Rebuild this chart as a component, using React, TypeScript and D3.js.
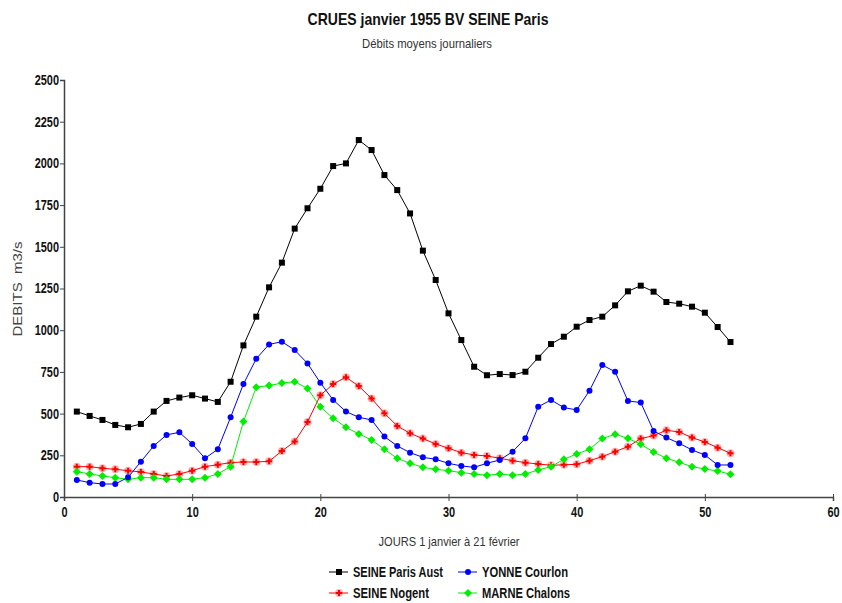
import React, { useEffect, useRef } from 'react';
import * as d3 from 'd3';

// débits moyens journaliers, jours 1 à 52
const days = d3.range(1, 53);

const seineParis = [512, 486, 462, 432, 418, 438, 512, 576, 596, 610, 590, 570, 691, 909, 1081, 1257, 1405, 1609, 1731, 1848,
  1984, 2000, 2140, 2080, 1930, 1840, 1700, 1477, 1301, 1101, 941, 781, 730, 737, 731, 751, 835, 917, 961, 1021,
  1061, 1081, 1149, 1233, 1267, 1231, 1169, 1159, 1141, 1105, 1019, 929];

const yonne = [102, 86, 78, 78, 118, 212, 306, 372, 388, 318, 232, 286, 478, 677, 829, 915, 931, 881, 801, 685,
  582, 512, 478, 462, 362, 306, 266, 238, 226, 202, 186, 178, 202, 222, 272, 352, 541, 582, 536, 522,
  637, 791, 751, 576, 566, 396, 356, 322, 282, 252, 192, 192];

const seineNogent = [182, 182, 172, 166, 158, 150, 138, 126, 138, 158, 182, 194, 206, 210, 210, 214, 276, 332, 450, 610,
  677, 718, 665, 590, 502, 426, 382, 350, 318, 292, 266, 252, 246, 232, 218, 206, 198, 190, 193, 196,
  218, 242, 272, 302, 350, 368, 400, 390, 356, 330, 296, 262];

const marne = [152, 138, 126, 116, 106, 116, 116, 106, 106, 106, 116, 138, 182, 452, 658, 668, 683, 691, 651, 541,
  472, 418, 378, 342, 286, 232, 202, 178, 166, 158, 146, 138, 130, 138, 130, 138, 162, 182, 226, 258,
  286, 350, 376, 352, 316, 270, 232, 208, 182, 168, 156, 136];

const seriesNames = ['SEINE Paris Aust', 'YONNE Courlon', 'SEINE Nogent', 'MARNE Chalons'];
const seriesValues = [seineParis, yonne, seineNogent, marne];
const seriesColors = ['#000000', '#0000ff', '#ff0000', '#00ee00'];
const seriesMarkers = ['square', 'circle', 'star', 'diamond'];

const xTicks = [0, 10, 20, 30, 40, 50, 60];
const yTicks = [0, 250, 500, 750, 1000, 1250, 1500, 1750, 2000, 2250, 2500];

const FONT = "'Liberation Sans', Arial, sans-serif";

// la police d'origine est étroite : on resserre le texte
function condense(sel: any, k: number) {
  sel.each(function (this: SVGTextElement) {
    const w = this.getComputedTextLength();
    d3.select(this).attr('textLength', w * k).attr('lengthAdjust', 'spacingAndGlyphs');
  });
}

function drawMarker(g: any, kind: string, x: number, y: number, color: string) {
  if (kind === 'square') {
    g.append('rect').attr('x', x - 3).attr('y', y - 3).attr('width', 6).attr('height', 6).attr('fill', color);
  } else if (kind === 'circle') {
    g.append('circle').attr('cx', x).attr('cy', y).attr('r', 3).attr('fill', color);
  } else if (kind === 'diamond') {
    g.append('path').attr('d', `M${x},${y - 4}L${x + 4},${y}L${x},${y + 4}L${x - 4},${y}Z`).attr('fill', color);
  } else {
    g.append('circle').attr('cx', x).attr('cy', y).attr('r', 4).attr('fill', color).attr('opacity', 0.3);
    g.append('path').attr('d', d3.symbol(d3.symbolCross, 20)()).attr('transform', `translate(${x},${y})`).attr('fill', color);
  }
}

export default function App() {
  const ref = useRef<SVGSVGElement>(null);

  useEffect(() => {
    const svg = d3.select(ref.current);
    svg.selectAll('*').remove();

    const x = d3.scaleLinear().domain([0, 60]).range([64, 833]);
    const y = d3.scaleLinear().domain([0, 2500]).range([497, 80]);

    svg.append('rect').attr('width', 842).attr('height', 603).attr('fill', '#fff');

    // titres
    svg.append('text').attr('x', 428).attr('y', 25).attr('text-anchor', 'middle')
      .attr('font-family', FONT).attr('font-size', 17).attr('font-weight', 'bold').attr('fill', '#111')
      .attr('textLength', 241).attr('lengthAdjust', 'spacingAndGlyphs')
      .text('CRUES janvier 1955 BV SEINE Paris');
    svg.append('text').attr('x', 427).attr('y', 48).attr('text-anchor', 'middle')
      .attr('font-family', FONT).attr('font-size', 13).attr('fill', '#333')
      .attr('textLength', 130).attr('lengthAdjust', 'spacingAndGlyphs')
      .text('Débits moyens journaliers');

    // axes
    const xAxis = svg.append('g').attr('transform', 'translate(0,497)')
      .call(d3.axisBottom(x).tickValues(xTicks).tickSize(4).tickFormat(d3.format('d')));
    const yAxis = svg.append('g').attr('transform', 'translate(64,0)')
      .call(d3.axisLeft(y).tickValues(yTicks).tickSize(4).tickFormat(d3.format('d')));
    [xAxis, yAxis].forEach(a => {
      a.select('.domain').attr('stroke', '#444').attr('stroke-width', 1.5);
      a.selectAll('.tick line').attr('stroke', '#444');
      a.selectAll('.tick text').attr('font-family', FONT).attr('font-size', 14)
        .attr('font-weight', 'bold').attr('fill', '#111');
      condense(a.selectAll('.tick text'), 0.78);
    });
    xAxis.selectAll('.tick line').attr('y1', -3);
    xAxis.selectAll('.tick text').attr('dy', '0.9em');
    yAxis.selectAll('.tick text').attr('x', -5);

    svg.append('text').attr('transform', 'translate(22,289) rotate(-90)').attr('text-anchor', 'middle')
      .attr('font-family', FONT).attr('font-size', 13).attr('fill', '#444')
      .attr('xml:space', 'preserve').attr('textLength', 95).attr('lengthAdjust', 'spacingAndGlyphs')
      .text('DEBITS  m3/s');
    svg.append('text').attr('x', 449).attr('y', 546).attr('text-anchor', 'middle')
      .attr('font-family', FONT).attr('font-size', 13).attr('fill', '#333')
      .attr('textLength', 141).attr('lengthAdjust', 'spacingAndGlyphs')
      .text('JOURS 1 janvier à 21 février');

    // séries
    const line = d3.line<number>().x((d, i) => x(days[i])).y(d => y(d));
    const order = [2, 3, 1, 0];
    order.forEach(k => {
      const g = svg.append('g');
      g.append('path').attr('d', line(seriesValues[k]) as string).attr('fill', 'none')
        .attr('stroke', seriesColors[k]).attr('stroke-width', 1);
      seriesValues[k].forEach((v, i) => drawMarker(g, seriesMarkers[k], x(days[i]), y(v), seriesColors[k]));
    });

    // légende
    const legendPos = [[329, 572], [458, 572], [329, 593], [458, 593]];
    const legendW = [90, 86, 76, 88];
    seriesNames.forEach((name, k) => {
      const [lx, ly] = legendPos[k];
      const g = svg.append('g');
      g.append('line').attr('x1', lx).attr('x2', lx + 19).attr('y1', ly).attr('y2', ly)
        .attr('stroke', seriesColors[k]).attr('stroke-width', 1);
      drawMarker(g, seriesMarkers[k], lx + 10, ly, seriesColors[k]);
      g.append('text').attr('x', lx + 24).attr('y', ly + 5).attr('font-family', FONT)
        .attr('font-size', 14).attr('font-weight', 'bold').attr('fill', '#111')
        .attr('textLength', legendW[k]).attr('lengthAdjust', 'spacingAndGlyphs').text(name);
    });
  }, []);

  return (
    <svg ref={ref} width={842} height={603}
      style={{ position: 'absolute', left: 0, top: 0, display: 'block' }} />
  );
}
